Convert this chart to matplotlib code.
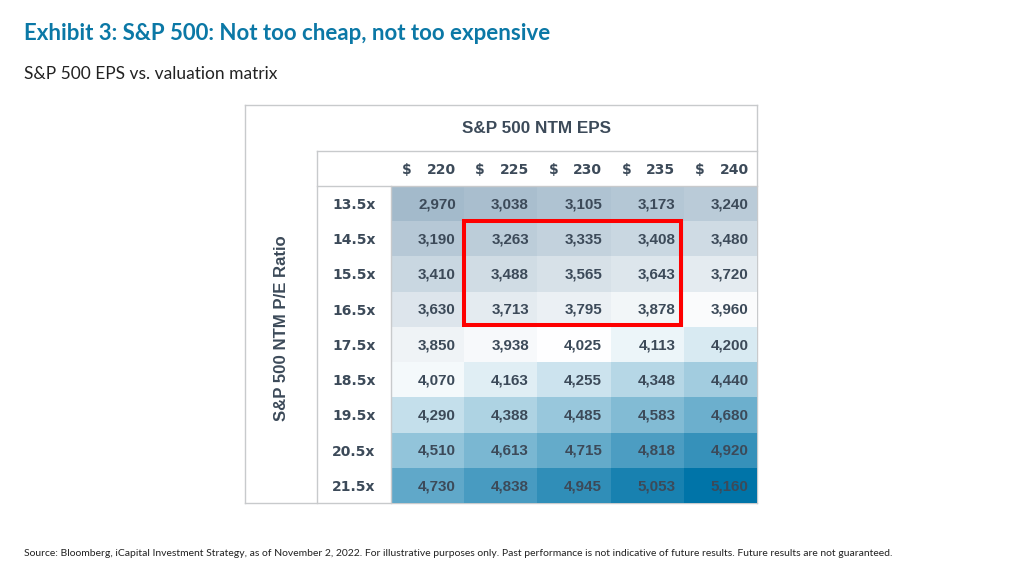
import numpy as np
import matplotlib
matplotlib.use("Agg")
import matplotlib.pyplot as plt
from matplotlib.colors import LinearSegmentedColormap, TwoSlopeNorm
from matplotlib.patches import Rectangle

title = "Exhibit 3: S&P 500: Not too cheap, not too expensive"
subtitle = "S&P 500 EPS vs. valuation matrix"
source = ("Source: Bloomberg, iCapital Investment Strategy, as of November 2, 2022. For illustrative purposes only. "
          "Past performance is not indicative of future results. Future results are not guaranteed.")

eps = [220, 225, 230, 235, 240]
pe = ["13.5x", "14.5x", "15.5x", "16.5x", "17.5x", "18.5x", "19.5x", "20.5x", "21.5x"]
row_135 = [2970, 3038, 3105, 3173, 3240]
row_145 = [3190, 3263, 3335, 3408, 3480]
row_155 = [3410, 3488, 3565, 3643, 3720]
row_165 = [3630, 3713, 3795, 3878, 3960]
row_175 = [3850, 3938, 4025, 4113, 4200]
row_185 = [4070, 4163, 4255, 4348, 4440]
row_195 = [4290, 4388, 4485, 4583, 4680]
row_205 = [4510, 4613, 4715, 4818, 4920]
row_215 = [4730, 4838, 4945, 5053, 5160]

values = np.array([row_135, row_145, row_155, row_165, row_175, row_185, row_195, row_205, row_215])

W, H = 1024, 576
TEXT = "#3c4a59"
LINE = "#c8cacc"

def px_axes(x0, y0, x1, y1):
    # axes placed in reference pixels, y counted from the top
    return fig.add_axes([x0 / W, 1 - y1 / H, (x1 - x0) / W, (y1 - y0) / H])

fig = plt.figure(figsize=(10.24, 5.76), dpi=100, facecolor="white")

fig.text(24 / W, 1 - 34 / H, title, family="Lato", weight="bold", fontsize=16.0, color="#0b78a6", va="center")
fig.text(24 / W, 1 - 74 / H, subtitle, family="Lato", fontsize=12.5, color="#222222", va="center")
fig.text(24 / W, 1 - 553.5 / H, source, family="Lato", fontsize=7.46, color="#222222", va="center")

# outer table frame
frame = px_axes(245, 105, 757, 503)
frame.set_xticks([])
frame.set_yticks([])
for s in frame.spines.values():
    s.set_color(LINE)
    s.set_linewidth(1.0)
frame.text(0.57, 0.94, "S&P 500 NTM EPS", transform=frame.transAxes, ha="center", va="center",
           family="Liberation Sans", weight="bold", fontsize=12.3, color=TEXT)
frame.text(0.072, 0.44, "S&P 500 NTM P/E Ratio", transform=frame.transAxes, rotation=90, ha="center", va="center",
           family="Liberation Sans", weight="bold", fontsize=12.1, color=TEXT)

# heat cells
ax = px_axes(391, 186, 757, 503)
cmap = LinearSegmentedColormap.from_list("val", ["#a3bacb", "#ffffff", "#0074a8"])
norm = TwoSlopeNorm(vmin=values.min(), vcenter=4025, vmax=values.max())
ax.pcolormesh(values, cmap=cmap, norm=norm, edgecolors="none")
ax.set_xlim(0, len(eps))
ax.set_ylim(len(pe), 0)
ax.axis("off")

for r in range(len(pe)):
    for c in range(len(eps)):
        ax.text(c + 0.885, r + 0.52, f"{values[r, c]:,}", ha="right", va="center",
                family="Liberation Sans", weight="bold", fontsize=10.9, color=TEXT)

ax.add_patch(Rectangle((1, 1), 2.96, 2.94, fill=False, edgecolor="#fe0000", linewidth=2.9, zorder=5, clip_on=False))

# header row and row labels sit outside the cells
for c, v in enumerate(eps):
    ax.text(c + 0.15, -0.45, "$", ha="left", va="center", family="DejaVu Sans", weight="bold",
            fontsize=10, color=TEXT, clip_on=False)
    ax.text(c + 0.885, -0.45, str(v), ha="right", va="center", family="DejaVu Sans", weight="bold",
            fontsize=10, color=TEXT, clip_on=False)
for r, lab in enumerate(pe):
    ax.text(-0.505, r + 0.54, lab, ha="center", va="center", family="DejaVu Sans", weight="bold",
            fontsize=10, color=TEXT, clip_on=False)

# inner table rules
rules = px_axes(317, 151, 757, 503)
rules.set_xlim(317, 757)
rules.set_ylim(503, 151)
rules.axis("off")
rules.patch.set_alpha(0)
rules.plot([317, 757], [151, 151], color=LINE, lw=1.0, clip_on=False)
rules.plot([317, 317], [151, 503], color=LINE, lw=1.0, clip_on=False)
rules.plot([317, 757], [186, 186], color=LINE, lw=1.0, clip_on=False)
rules.plot([391, 391], [186, 503], color=LINE, lw=1.0, clip_on=False)

fig.savefig("out.png", dpi=100)
